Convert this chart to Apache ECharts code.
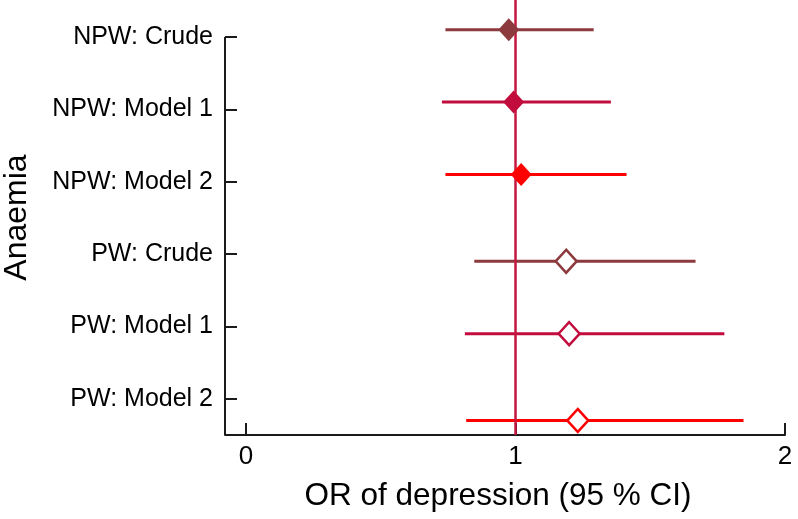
<!DOCTYPE html>
<html>
<head>
<meta charset="utf-8">
<script src="https://cdn.jsdelivr.net/npm/echarts@6/dist/echarts.min.js"></script>
<style>
  html, body { margin: 0; padding: 0; background: #fff; }
  #forest { width: 798px; height: 519px; }
</style>
</head>
<body>
<div id="forest"></div>
<script>
// rows of the forest plot, top to bottom
const labels = ['NPW: Crude', 'NPW: Model 1', 'NPW: Model 2', 'PW: Crude', 'PW: Model 1', 'PW: Model 2'];
const orValues = [0.975, 0.993, 1.021, 1.188, 1.199, 1.231];
const ciLower = [0.74, 0.727, 0.74, 0.847, 0.812, 0.817];
const ciUpper = [1.29, 1.354, 1.412, 1.668, 1.775, 1.846];
// small vertical dodge of each estimate from its row tick
const rowOffset = [-0.1, -0.1, -0.1, 0.1, 0.1, 0.3];
const xTicks = [0, 1, 2];
const rowTicks = [1, 2, 3, 4, 5, 6];
const refValue = 1;

const xMin = -0.078, xMax = 2;
const yMin = 0.49, yMax = 6.5;
const font = 'Liberation Sans, Arial, Helvetica, sans-serif';
const axisColor = '#1a1a1a';
const modelColors = ['#8c3a3e', '#c20c3e', '#ff0000'];

function rowColor(i) { return modelColors[i % 3]; }
function isPregnant(i) { return i >= 3; }

const rows = labels.map((name, i) => ({
  i: i,
  y: rowTicks[i] + rowOffset[i],
  or: orValues[i],
  lo: ciLower[i],
  hi: ciUpper[i]
}));

const chart = echarts.init(document.getElementById('forest'));
chart.setOption({
  animation: false,
  textStyle: { fontFamily: font },
  grid: { left: 225, right: 13, top: 0, bottom: 84, containLabel: false, outerBoundsMode: 'none' },
  xAxis: {
    type: 'value',
    min: xMin,
    max: xMax,
    name: 'OR of depression (95 % CI)',
    nameLocation: 'middle',
    nameGap: 45,
    nameTextStyle: { fontSize: 31.5, color: '#000', fontFamily: font, padding: [0, 14, 0, 0] },
    axisLine: { onZero: false, lineStyle: { color: axisColor, width: 2 } },
    axisTick: { inside: true, length: 12, customValues: xTicks, lineStyle: { color: axisColor, width: 2 } },
    axisLabel: { customValues: xTicks, fontSize: 26, color: '#000', margin: 9 },
    splitLine: { show: false }
  },
  yAxis: {
    type: 'value',
    inverse: true,
    min: yMin,
    max: yMax,
    name: 'Anaemia',
    nameLocation: 'middle',
    nameGap: 192,
    nameRotate: 90,
    nameTextStyle: { fontSize: 32, color: '#000', fontFamily: font },
    axisLine: { show: false, onZero: false },
    axisTick: { inside: true, length: 12, customValues: rowTicks, lineStyle: { color: axisColor, width: 2 } },
    axisLabel: {
      customValues: rowTicks,
      fontSize: 25,
      color: '#000',
      margin: 12,
      formatter: v => labels[Math.round(v) - 1]
    },
    splitLine: { show: false }
  },
  series: [
    {
      // left axis line, only from the first row tick down
      type: 'line',
      data: [[xMin, rowTicks[0]], [xMin, yMax]],
      symbol: 'none',
      clip: false,
      silent: true,
      lineStyle: { color: axisColor, width: 2 }
    },
    {
      // confidence intervals
      type: 'custom',
      data: rows.map(r => [r.y, r.lo, r.hi]),
      encode: { x: [1, 2], y: 0 },
      renderItem: (params, api) => {
        const a = api.coord([api.value(1), api.value(0)]);
        const b = api.coord([api.value(2), api.value(0)]);
        return {
          type: 'line',
          shape: { x1: a[0], y1: a[1], x2: b[0], y2: b[1] },
          style: { stroke: rowColor(params.dataIndex), lineWidth: 3 }
        };
      },
      z: 2
    },
    {
      // no-effect line
      type: 'line',
      data: [[refValue, yMin], [refValue, yMax]],
      symbol: 'none',
      silent: true,
      lineStyle: { color: '#c4173f', width: 2.5 },
      z: 3
    },
    {
      type: 'scatter',
      symbol: 'diamond',
      symbolSize: [21, 23],
      data: rows.map(r => ({
        value: [r.or, r.y],
        itemStyle: isPregnant(r.i)
          ? { color: '#fff', borderColor: rowColor(r.i), borderWidth: 2.5, opacity: 1 }
          : { color: rowColor(r.i), opacity: 1 }
      })),
      z: 4
    }
  ]
});
window.addEventListener('resize', chart.resize);
</script>
</body>
</html>
